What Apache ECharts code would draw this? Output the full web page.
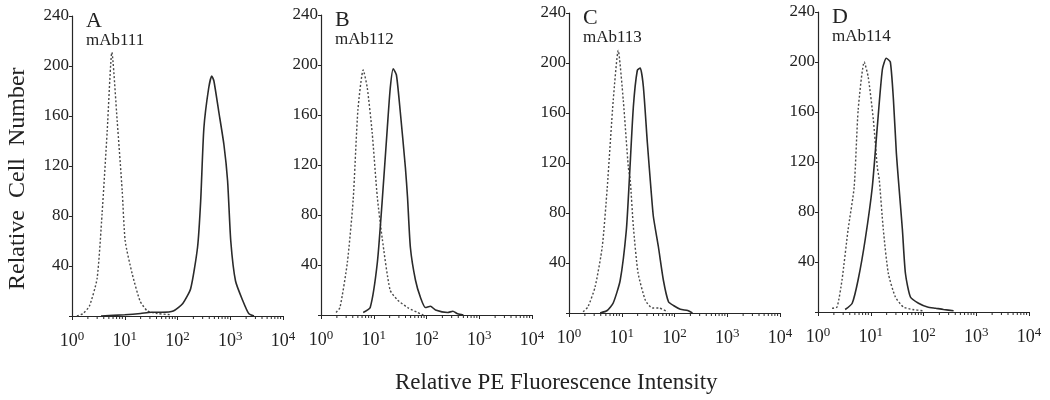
<!DOCTYPE html>
<html>
<head>
<meta charset="utf-8">
<style>
  html, body { margin: 0; padding: 0; background: #fff; }
  #chart { width: 1050px; height: 400px; }
</style>
<script src="https://cdn.jsdelivr.net/npm/echarts@6/dist/echarts.min.js"></script>
</head>
<body>
<div id="chart"></div>
<script>
// panel names
var panelLetters = ['A', 'B', 'C', 'D'];
var antibodies = ['mAb111', 'mAb112', 'mAb113', 'mAb114'];

// y ticks 0..240 step 40, x decades 10^0..10^4
var yTicks = [0, 40, 80, 120, 160, 200, 240];
var minorTicks = [2, 3, 4, 5, 6, 7, 8, 9, 20, 30, 40, 50, 60, 70, 80, 90,
  200, 300, 400, 500, 600, 700, 800, 900, 2000, 3000, 4000, 5000, 6000, 7000, 8000, 9000];

// A - control (dotted) and mAb111 (solid)
var ctrlA_x = [1.24, 1.62, 2.14, 2.99, 3.72, 4.65, 5.70, 7.19, 8.95, 10.2, 13.8, 19.5, 26.9, 41.7, 74];
var ctrlA_y = [0, 2, 8, 30, 82, 148, 211, 156, 100, 60, 34, 12, 4, 2, 1];
var mabA_x = [3.55, 10, 20, 31.6, 50, 83.2, 126, 178, 240, 275, 316, 389, 447, 490, 603, 759, 891, 1023, 1259, 1738, 2239, 2818];
var mabA_y = [0, 1, 2, 3, 3, 4, 10, 22, 55, 92, 150, 182, 192, 188, 164, 137, 108, 60, 28, 12, 2, 0];

// B
var ctrlB_x = [1.93, 2.29, 3.16, 4.07, 5.01, 6.31, 7.52, 9.33, 11.7, 14.5, 20.4, 28.2, 43.7, 67.6, 87.1];
var ctrlB_y = [2, 6, 42, 92, 164, 196, 182, 146, 94, 61, 20, 12, 6, 2, 0];
var mabB_x = [6.31, 8.57, 11.7, 14.5, 18.1, 20.6, 23.4, 26.9, 31.6, 39.8, 43.7, 49.5, 61.7, 76.9, 95.5, 119, 148, 251, 316, 389, 501];
var mabB_y = [2, 6, 42, 92, 150, 182, 197, 192, 164, 118, 94, 54, 28, 14, 6, 7, 4, 2, 3, 1, 0];

// C
var ctrlC_x = [1.85, 2.29, 3.13, 4.27, 5.30, 6.89, 8.57, 10.7, 13.3, 14.5, 16.6, 20.4, 28.2, 38.0, 50.1, 74.1];
var ctrlC_y = [1, 5, 21, 53, 100, 170, 210, 170, 117, 106, 69, 32, 10, 4, 4, 1];
var mabC_x = [3.89, 5.30, 6.89, 9.33, 12.2, 13.9, 16.6, 19.7, 22.4, 25.7, 30.6, 36.3, 39.8, 49.5, 61.7, 76.9, 95.5, 129, 178, 219];
var mabC_y = [0, 2, 8, 26, 66, 106, 165, 194, 196, 181, 136, 96, 77, 53, 26, 9, 6, 3, 2, 0];

// D
var ctrlD_x = [1.85, 2.30, 2.86, 3.72, 4.85, 5.78, 7.52, 8.95, 11.2, 13.3, 14.5, 17.3, 21.5, 29.3, 41.6, 61.7, 95.5];
var ctrlD_y = [3, 4, 26, 66, 100, 162, 200, 188, 154, 116, 106, 66, 31, 12, 4, 2, 1];
var mabD_x = [3.27, 4.45, 5.78, 7.85, 10.7, 13.3, 16.6, 19.7, 23.5, 26.9, 30.6, 33.4, 39.8, 45.4, 56.5, 80.4, 119, 170, 240, 372];
var mabD_y = [2, 7, 26, 58, 100, 148, 194, 203, 200, 170, 127, 106, 66, 31, 12, 7, 4, 3, 2, 1];

var ctrlX = [ctrlA_x, ctrlB_x, ctrlC_x, ctrlD_x];
var ctrlY = [ctrlA_y, ctrlB_y, ctrlC_y, ctrlD_y];
var mabX = [mabA_x, mabB_x, mabC_x, mabD_x];
var mabY = [mabA_y, mabB_y, mabC_y, mabD_y];

// layout of the 4 panels
var panelLeft = [72, 321, 569, 818];
var panelTop = [16, 15, 13, 12];
var panelWidth = 211;
var panelHeight = 300;

var serif = 'Liberation Serif';
var ink = '#262626';

function zip(xs, ys) {
  return xs.map(function (x, i) { return [x, ys[i]]; });
}

var chart = echarts.init(document.getElementById('chart'), null, { renderer: 'canvas' });

var grids = [], xAxes = [], yAxes = [], series = [], titles = [];

for (var i = 0; i < 4; i++) {
  grids.push({ left: panelLeft[i], top: panelTop[i], width: panelWidth, height: panelHeight, containLabel: false });
  xAxes.push({
    gridIndex: i,
    type: 'log',
    logBase: 10,
    min: 1,
    max: 10000,
    splitNumber: 4,
    axisLine: { show: true, lineStyle: { color: ink, width: 1.2 } },
    axisTick: { show: true, length: 4, lineStyle: { color: ink } },
    splitLine: { show: false },
    axisLabel: {
      margin: 14,
      color: '#222',
      formatter: function (v) {
        return '{b|10}{s|' + Math.round(Math.log10(v)) + '}';
      },
      rich: {
        b: { fontFamily: serif, fontSize: 18, color: '#222' },
        s: { fontFamily: serif, fontSize: 13, color: '#222', verticalAlign: 'bottom', padding: [0, 0, 10, 0] }
      }
    }
  });
  yAxes.push({
    gridIndex: i,
    type: 'value',
    min: yTicks[0],
    max: yTicks[yTicks.length - 1],
    interval: 40,
    axisLine: { show: true, lineStyle: { color: ink, width: 1.2 } },
    axisTick: { show: true, length: 3, lineStyle: { color: ink } },
    splitLine: { show: false },
    axisLabel: {
      margin: 3,
      fontFamily: serif,
      fontSize: 17,
      color: '#222',
      formatter: function (v) { return v === 0 ? '' : v; }
    }
  });
  series.push({
    type: 'line',
    xAxisIndex: i, yAxisIndex: i,
    data: zip(ctrlX[i], ctrlY[i]),
    showSymbol: false,
    smooth: 0.2,
    lineStyle: { color: '#4a4a4a', width: 1.4, type: [2, 2] },
    silent: true
  });
  series.push({
    type: 'line',
    xAxisIndex: i, yAxisIndex: i,
    data: zip(mabX[i], mabY[i]),
    showSymbol: false,
    smooth: 0.2,
    lineStyle: { color: '#2a2a2a', width: 1.6 },
    silent: true
  });
  // log minor ticks along the x axis
  series.push({
    type: 'custom',
    xAxisIndex: i, yAxisIndex: i,
    data: minorTicks.map(function (v) { return [v, 0]; }),
    silent: true,
    clip: false,
    renderItem: function (params, api) {
      var p = api.coord([api.value(0), 0]);
      return {
        type: 'line',
        shape: { x1: p[0], y1: p[1], x2: p[0], y2: p[1] + 3 },
        style: { stroke: ink, lineWidth: 1 }
      };
    }
  });
  titles.push({
    text: panelLetters[i],
    subtext: antibodies[i],
    left: panelLeft[i] + 9,
    top: panelTop[i] - 11,
    itemGap: 0,
    textStyle: { fontFamily: serif, fontSize: 22, fontWeight: 'normal', color: '#222' },
    subtextStyle: { fontFamily: serif, fontSize: 17, color: '#222' }
  });
}

titles.push({
  text: 'Relative PE Fluorescence Intensity',
  left: 390,
  top: 366,
  textStyle: { fontFamily: serif, fontSize: 23, fontWeight: 'normal', color: '#222' }
});

var option = {
  animation: false,
  backgroundColor: '#fff',
  title: titles,
  grid: grids,
  xAxis: xAxes,
  yAxis: yAxes,
  series: series,
  graphic: [{
    type: 'text',
    x: 6,
    y: 290,
    rotation: Math.PI / 2,
    style: {
      text: 'Relative  Cell  Number',
      fontFamily: serif,
      fontSize: 24,
      fill: '#222'
    }
  }]
};

chart.setOption(option);
</script>
</body>
</html>
